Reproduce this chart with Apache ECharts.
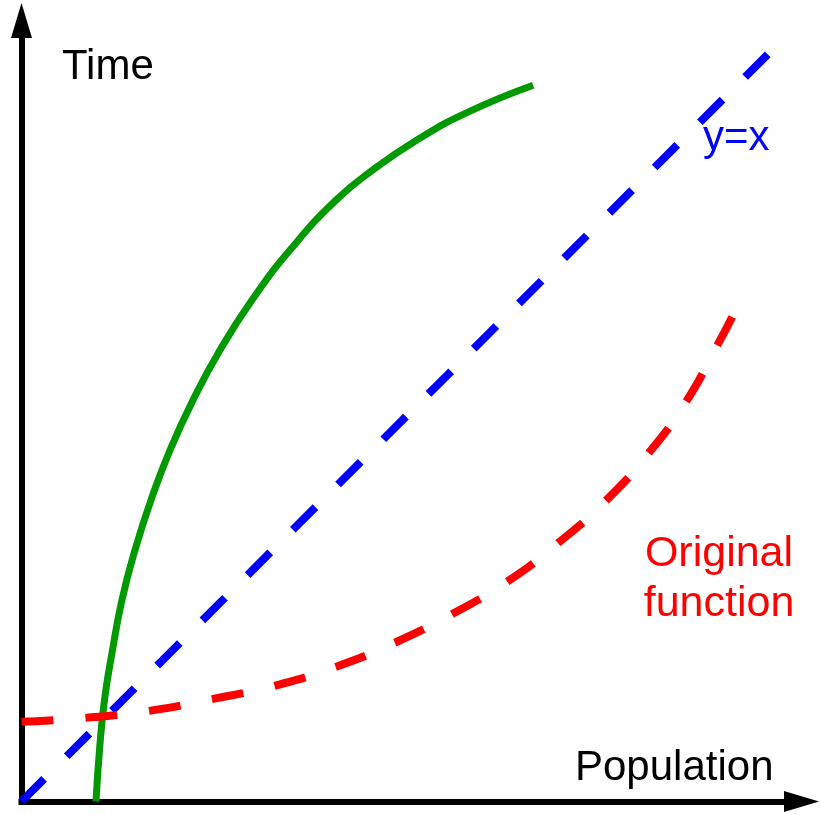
<!DOCTYPE html>
<html>
<head>
<meta charset="utf-8">
<script src="https://cdn.jsdelivr.net/npm/echarts@6/dist/echarts.min.js"></script>
<style>
html,body{margin:0;padding:0;background:#fff;}
#chart{width:821px;height:815px;}
</style>
</head>
<body>
<div id="chart"></div>
<script>
// Original function (red, dashed)
const redX = [0, 0.81, 1.63, 2.44, 3.24, 4.02, 4.78, 5.52, 6.22, 6.88, 7.49, 8.04, 8.52, 8.92, 9.12];
const redY = [1.02, 1.07, 1.16, 1.31, 1.48, 1.72, 2.03, 2.40, 2.81, 3.31, 3.85, 4.46, 5.12, 5.84, 6.22];
// Inverse function (green, solid)
const greenX = [0.955, 1.00, 1.064, 1.167, 1.288, 1.455, 1.660, 1.904, 2.199, 2.545, 2.955, 3.442, 4.032, 4.51, 5.07, 5.71, 6.56];
const greenY = [0, 0.66, 1.30, 1.94, 2.58, 3.22, 3.86, 4.50, 5.14, 5.78, 6.42, 7.06, 7.70, 8.09, 8.47, 8.82, 9.17];
// y = x (blue, dashed)
const blueX = [0, 9.57];
const blueY = [0, 9.57];

const axisTitleX = 'Population';
const axisTitleY = 'Time';
const labelBlue = 'y=x';
const labelRed = ['Original', 'function'];

const zip = (a, b) => a.map((v, i) => [v, b[i]]);
const FONT = '"Liberation Sans", Arial, sans-serif';

const chart = echarts.init(document.getElementById('chart'));
const axisCommon = {
  type: 'value', min: 0, max: 10,
  splitLine: { show: false }, axisTick: { show: false }, axisLabel: { show: false },
  axisLine: {
    show: true,
    symbol: ['none', 'triangle'],
    symbolSize: [21, 35],
    lineStyle: { color: '#000', width: 6, cap: 'square' }
  }
};
chart.setOption({
  animation: false,
  grid: { left: 21.5, right: 19.5, top: 20.5, bottom: 13.5 },
  xAxis: axisCommon,
  yAxis: axisCommon,
  series: [
    { type: 'line', data: zip(greenX, greenY), smooth: 0.5, showSymbol: false, symbol: 'none',
      lineStyle: { color: '#009900', width: 7 } },
    { type: 'line', data: zip(blueX, blueY), showSymbol: false, symbol: 'none',
      lineStyle: { color: '#0000ff', width: 8, type: [32, 32] } },
    { type: 'line', data: zip(redX, redY), smooth: 0.5, showSymbol: false, symbol: 'none',
      lineStyle: { color: '#ff0000', width: 8, type: [32, 32] } }
  ],
  graphic: [
    { type: 'text', x: 62, y: 67, style: { text: axisTitleY, font: '42px ' + FONT, fill: '#000', textAlign: 'left', verticalAlign: 'middle' } },
    { type: 'text', x: 575, y: 768, style: { text: axisTitleX, font: '42px ' + FONT, fill: '#000', textAlign: 'left', verticalAlign: 'middle' } },
    { type: 'text', x: 703, y: 138, style: { text: labelBlue, font: '42px ' + FONT, fill: '#0000ff', textAlign: 'left', verticalAlign: 'middle' } },
    { type: 'text', x: 719, y: 554, style: { text: labelRed[0], font: '43px ' + FONT, fill: '#ff0000', textAlign: 'center', verticalAlign: 'middle' } },
    { type: 'text', x: 719, y: 604, style: { text: labelRed[1], font: '43px ' + FONT, fill: '#ff0000', textAlign: 'center', verticalAlign: 'middle' } }
  ]
});
</script>
</body>
</html>
